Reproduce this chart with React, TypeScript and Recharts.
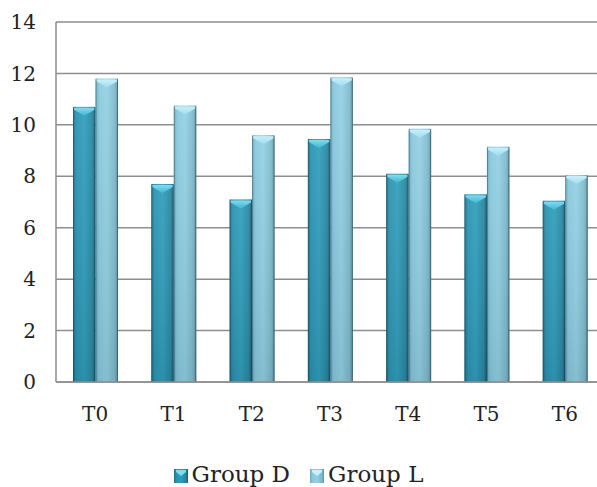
import React from "react";
import {
  BarChart,
  Bar,
  XAxis,
  YAxis,
  CartesianGrid,
  Legend,
} from "recharts";

// Time points and the two groups' mean scores
const timepoints = ["T0", "T1", "T2", "T3", "T4", "T5", "T6"];
const groupD = [10.7, 7.7, 7.1, 9.45, 8.1, 7.3, 7.05];
const groupL = [11.8, 10.75, 9.6, 11.85, 9.85, 9.15, 8.05];
const yTicks = [0, 2, 4, 6, 8, 10, 12, 14];

const seriesNames = { d: "Group D", l: "Group L" };

const data = timepoints.map((t, i) => ({
  name: t,
  d: groupD[i],
  l: groupL[i],
}));

const FONT = "DejaVu Serif";
const GRID = "#8e8e8e";

const palettes: Record<string, { stops: [number, string][]; cap: string; capEdge: string }> = {
  d: {
    stops: [
      [0, "#1b6c85"],
      [0.15, "#2892b0"],
      [0.5, "#2d9dbb"],
      [0.85, "#2586a1"],
      [1, "#175a70"],
    ],
    cap: "#7fdcf0",
    capEdge: "#3fb6d3",
  },
  l: {
    stops: [
      [0, "#68a6bc"],
      [0.15, "#88c7dd"],
      [0.5, "#92d0e4"],
      [0.85, "#7db9cd"],
      [1, "#5a8fa2"],
    ],
    cap: "#c6f1fb",
    capEdge: "#9fdcee",
  },
};

// Cylinder-like bar: horizontal shading, slight top-to-bottom fade, and a bevelled cap
const makeShape = (key: string) => (props: any) => {
  const { x, y, width, height } = props;
  if (!height || height <= 0) return <g />;
  const capH = Math.min(9, height);
  const mid = x + width / 2;
  return (
    <g>
      <rect x={x} y={y} width={width} height={height} fill={`url(#body-${key})`} />
      <rect x={x} y={y} width={width} height={height} fill="url(#fade)" />
      <polygon
        points={`${x + 1},${y + 1} ${x + width - 1},${y + 1} ${x + width - 1},${y + 3} ${mid},${y + capH} ${x + 1},${y + 3}`}
        fill={`url(#cap-${key})`}
      />
      <line x1={x + 0.5} y1={y + 1} x2={x + 0.5} y2={y + height} stroke="rgba(10,50,65,0.35)" strokeWidth={1} />
      <line x1={x + width - 0.5} y1={y + 1} x2={x + width - 0.5} y2={y + height} stroke="rgba(10,50,65,0.45)" strokeWidth={1} />
    </g>
  );
};

const LegendContent = () => {
  const items = [
    { key: "d", label: seriesNames.d },
    { key: "l", label: seriesNames.l },
  ];
  return (
    <div
      style={{
        display: "flex",
        justifyContent: "center",
        alignItems: "flex-end",
        width: 597,
        paddingTop: 19,
        fontFamily: FONT,
        fontSize: 23,
        lineHeight: "27px",
        color: "#222",
      }}
    >
      {items.map((it, i) => (
        <div
          key={it.key}
          style={{ display: "flex", alignItems: "flex-end", marginLeft: i === 0 ? 0 : 20 }}
        >
          <svg width={14} height={14} style={{ marginRight: 4, marginBottom: 5 }}>
            <rect x={0} y={0} width={14} height={14} fill={`url(#body-${it.key})`} />
            <polygon points="2,1 12,1 12,3 7,7 2,3" fill={palettes[it.key].cap} />
          </svg>
          <span>{it.label}</span>
        </div>
      ))}
    </div>
  );
};

export default function App() {
  return (
    <div
      style={{
        position: "absolute",
        left: 0,
        top: 0,
        width: 597,
        height: 487,
        overflow: "hidden",
        background: "#fff",
      }}
    >
      <BarChart
        width={604}
        height={487}
        data={data}
        margin={{ top: 22, right: 0, left: 0, bottom: 0 }}
        barGap={0}
        barSize={22.5}
      >
        <defs>
          {Object.entries(palettes).map(([k, p]) => (
            <React.Fragment key={k}>
              <linearGradient id={`body-${k}`} x1="0" y1="0" x2="1" y2="0">
                {p.stops.map(([o, c]) => (
                  <stop key={o} offset={o} stopColor={c} />
                ))}
              </linearGradient>
              <linearGradient id={`cap-${k}`} x1="0" y1="0" x2="0" y2="1">
                <stop offset={0} stopColor={p.cap} />
                <stop offset={1} stopColor={p.capEdge} />
              </linearGradient>
            </React.Fragment>
          ))}
          <linearGradient id="fade" x1="0" y1="0" x2="0" y2="1">
            <stop offset={0} stopColor="#ffffff" stopOpacity={0.08} />
            <stop offset={1} stopColor="#2a3a40" stopOpacity={0.12} />
          </linearGradient>
        </defs>
        <CartesianGrid vertical={false} stroke={GRID} strokeWidth={1.5} />
        <XAxis
          dataKey="name"
          height={60}
          axisLine={{ stroke: GRID, strokeWidth: 1.5 }}
          tickLine={false}
          tickSize={0}
          tickMargin={25}
          tick={{ fill: "#222", fontFamily: FONT, fontSize: 20 }}
        />
        <YAxis
          width={56}
          domain={[0, 14]}
          ticks={yTicks}
          interval={0}
          axisLine={{ stroke: GRID, strokeWidth: 1.5 }}
          tickLine={false}
          tickSize={0}
          tickMargin={20}
          tick={{ fill: "#222", fontFamily: FONT, fontSize: 20 }}
        />
        <Legend
          verticalAlign="bottom"
          height={45}
          wrapperStyle={{ left: 0, width: 597 }}
          content={<LegendContent />}
        />
        <Bar dataKey="d" name={seriesNames.d} shape={makeShape("d")} isAnimationActive={false} />
        <Bar dataKey="l" name={seriesNames.l} shape={makeShape("l")} isAnimationActive={false} />
      </BarChart>
    </div>
  );
}
